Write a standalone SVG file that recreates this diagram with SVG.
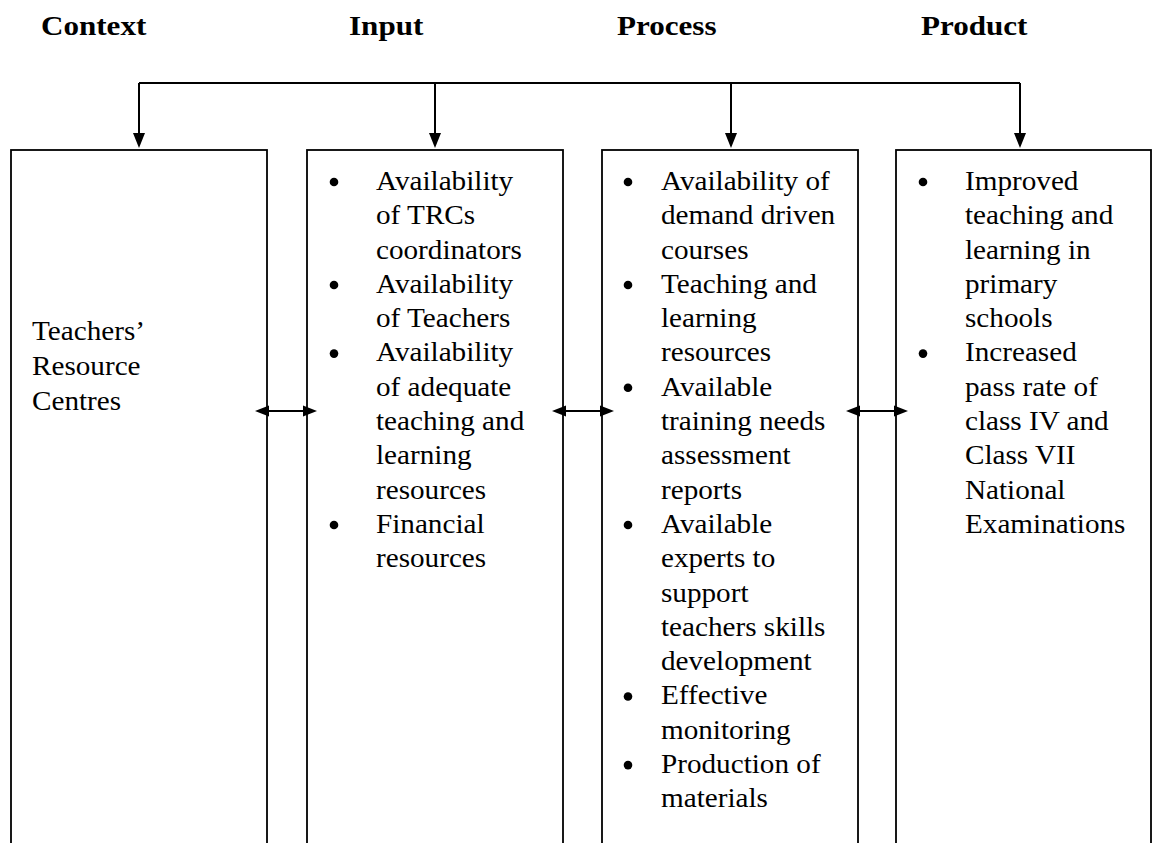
<svg xmlns="http://www.w3.org/2000/svg" width="1152" height="843" viewBox="0 0 1152 843">
  <style>
    .head { font-family: "Liberation Serif", "Times New Roman", serif; font-weight: bold; font-size: 28px; fill: #000; }
    .body { font-family: "Liberation Serif", "Times New Roman", serif; font-size: 26.3px; fill: #000; }
    .box { fill: #fff; stroke: #000; stroke-width: 1.8; }
    .wire { fill: none; stroke: #000; stroke-width: 2; }
    .dot { fill: #000; }
  </style>
  <defs>
    <!-- arrowhead for the side links between boxes -->
    <marker id="arrow" markerUnits="userSpaceOnUse" markerWidth="14" markerHeight="12" refX="11" refY="6" orient="auto-start-reverse">
      <path d="M0,0.5 L14,6 L0,11.5 z" fill="#000"/>
    </marker>
    <!-- arrowhead for the drops from the top rail -->
    <marker id="drop" markerUnits="userSpaceOnUse" markerWidth="15" markerHeight="13" refX="12" refY="6.5" orient="auto">
      <path d="M0,0.5 L15,6.5 L0,12.5 z" fill="#000"/>
    </marker>
  </defs>
  <rect width="1152" height="843" fill="#fff"/>

  <!-- column headings -->
  <g id="headings">
    <g transform="translate(41,0) scale(1.11,1)"><text class="head" x="0" y="35">Context</text></g>
    <g transform="translate(349,0) scale(1.11,1)"><text class="head" x="0" y="35">Input</text></g>
    <g transform="translate(617,0) scale(1.11,1)"><text class="head" x="0" y="35">Process</text></g>
    <g transform="translate(921,0) scale(1.11,1)"><text class="head" x="0" y="35">Product</text></g>
  </g>

  <!-- Context -->
  <g id="context">
    <rect class="box" x="11" y="150" width="256" height="720"/>
    <g transform="translate(32,0) scale(1.11,1)" class="body">
      <text x="0" y="340">Teachers’</text>
      <text x="0" y="375">Resource</text>
      <text x="0" y="410">Centres</text>
    </g>
  </g>

  <!-- Input -->
  <g id="input">
    <rect class="box" x="307" y="150" width="256" height="720"/>
    <circle class="dot" cx="334" cy="182" r="4.3"/>
    <circle class="dot" cx="334" cy="285" r="4.3"/>
    <circle class="dot" cx="334" cy="353.6" r="4.3"/>
    <circle class="dot" cx="334" cy="525" r="4.3"/>
    <g transform="translate(376,0) scale(1.11,1)" class="body">
      <text x="0" y="190">Availability</text>
      <text x="0" y="224.3">of TRCs</text>
      <text x="0" y="258.6">coordinators</text>
      <text x="0" y="292.9">Availability</text>
      <text x="0" y="327.2">of Teachers</text>
      <text x="0" y="361.5">Availability</text>
      <text x="0" y="395.8">of adequate</text>
      <text x="0" y="430.1">teaching and</text>
      <text x="0" y="464.4">learning</text>
      <text x="0" y="498.7">resources</text>
      <text x="0" y="533">Financial</text>
      <text x="0" y="567.3">resources</text>
    </g>
  </g>

  <!-- Process -->
  <g id="process">
    <rect class="box" x="602" y="150" width="256" height="720"/>
    <circle class="dot" cx="628" cy="182" r="4.3"/>
    <circle class="dot" cx="628" cy="285" r="4.3"/>
    <circle class="dot" cx="628" cy="387.8" r="4.3"/>
    <circle class="dot" cx="628" cy="525" r="4.3"/>
    <circle class="dot" cx="628" cy="696.5" r="4.3"/>
    <circle class="dot" cx="628" cy="765.1" r="4.3"/>
    <g transform="translate(661,0) scale(1.11,1)" class="body">
      <text x="0" y="190">Availability of</text>
      <text x="0" y="224.3">demand driven</text>
      <text x="0" y="258.6">courses</text>
      <text x="0" y="292.9">Teaching and</text>
      <text x="0" y="327.2">learning</text>
      <text x="0" y="361.5">resources</text>
      <text x="0" y="395.8">Available</text>
      <text x="0" y="430.1">training needs</text>
      <text x="0" y="464.4">assessment</text>
      <text x="0" y="498.7">reports</text>
      <text x="0" y="533">Available</text>
      <text x="0" y="567.3">experts to</text>
      <text x="0" y="601.6">support</text>
      <text x="0" y="635.9">teachers skills</text>
      <text x="0" y="670.2">development</text>
      <text x="0" y="704.5">Effective</text>
      <text x="0" y="738.8">monitoring</text>
      <text x="0" y="773.1">Production of</text>
      <text x="0" y="807.4">materials</text>
    </g>
  </g>

  <!-- Product -->
  <g id="product">
    <rect class="box" x="896" y="150" width="255" height="720"/>
    <circle class="dot" cx="923" cy="182" r="4.3"/>
    <circle class="dot" cx="923" cy="353.6" r="4.3"/>
    <g transform="translate(965,0) scale(1.11,1)" class="body">
      <text x="0" y="190">Improved</text>
      <text x="0" y="224.3">teaching and</text>
      <text x="0" y="258.6">learning in</text>
      <text x="0" y="292.9">primary</text>
      <text x="0" y="327.2">schools</text>
      <text x="0" y="361.5">Increased</text>
      <text x="0" y="395.8">pass rate of</text>
      <text x="0" y="430.1">class IV and</text>
      <text x="0" y="464.4">Class VII</text>
      <text x="0" y="498.7">National</text>
      <text x="0" y="533">Examinations</text>
    </g>
  </g>

  <!-- connectors -->
  <g id="connectors" class="wire">
    <path d="M139,83 H1020"/>
    <path d="M139,83 V145" marker-end="url(#drop)"/>
    <path d="M435,83 V145" marker-end="url(#drop)"/>
    <path d="M731,83 V145" marker-end="url(#drop)"/>
    <path d="M1020,83 V145" marker-end="url(#drop)"/>
    <path d="M258,411 H314" marker-start="url(#arrow)" marker-end="url(#arrow)"/>
    <path d="M555,411 H611" marker-start="url(#arrow)" marker-end="url(#arrow)"/>
    <path d="M849,411 H905" marker-start="url(#arrow)" marker-end="url(#arrow)"/>
  </g>
</svg>
